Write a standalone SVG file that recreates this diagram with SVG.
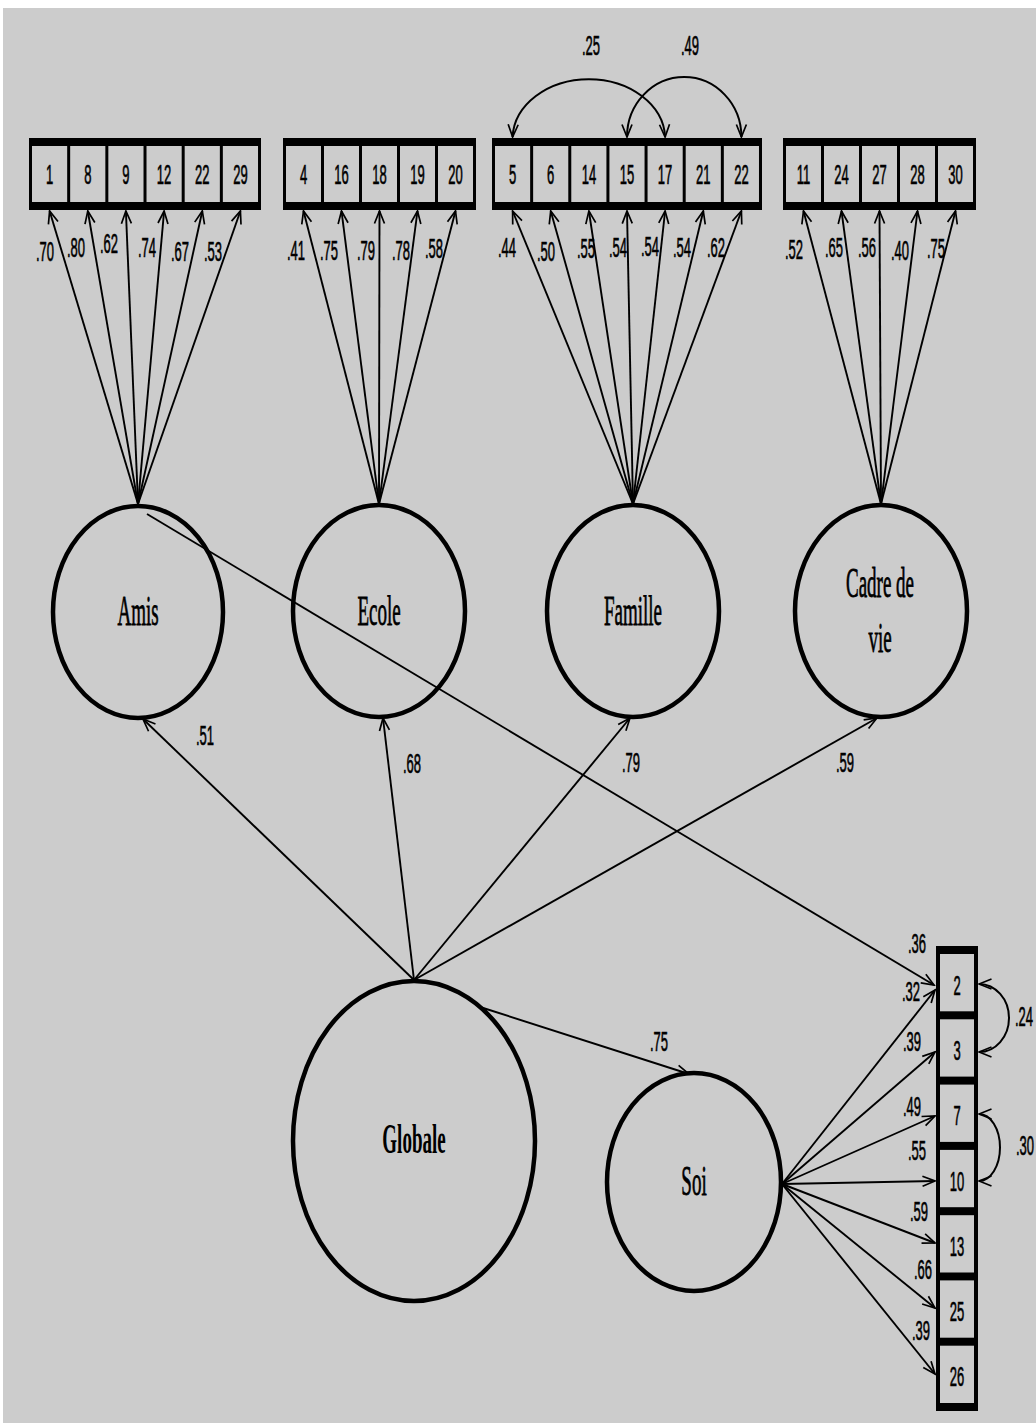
<svg xmlns="http://www.w3.org/2000/svg" width="1036" height="1425" viewBox="0 0 1036 1425">
  <defs>
    <style>
      .bg { fill: #cccccc; }
      .frame { fill: #000; }
      .cell { fill: #cccccc; }
      .lat { fill: none; stroke: #000; stroke-width: 4.5; }
      .a { fill: none; stroke: #000; stroke-width: 1.9; marker-end: url(#ah); }
      .cov { fill: none; stroke: #000; stroke-width: 2; marker-start: url(#ah); marker-end: url(#ah); }
      .lv { font-family: "Liberation Serif", "Times New Roman", serif; font-size: 19px; text-anchor: middle; fill: #000; stroke: #000; stroke-width: 0.35; }
      .lvb { font-family: "Liberation Serif", "Times New Roman", serif; font-size: 19px; font-weight: bold; text-anchor: middle; fill: #000; }
      .n { font-family: "Liberation Sans", Arial, sans-serif; font-size: 13px; text-anchor: middle; fill: #000; stroke: #000; stroke-width: 0.3; }
    </style>
    <marker id="ah" viewBox="-14 -7 16 14" refX="0" refY="0" markerWidth="16" markerHeight="14" markerUnits="userSpaceOnUse" orient="auto-start-reverse">
      <path d="M-12.5,-5 L0,0 L-12.5,5" fill="none" stroke="#000" stroke-width="1.7"/>
    </marker>
  </defs>

  <!-- page -->
  <rect x="0" y="0" width="1036" height="1425" fill="#ffffff"/>
  <rect class="bg" x="3" y="8" width="1033" height="1415"/>

  <!-- connectors -->
  <g id="connectors">
    <!-- Amis loadings -->
    <line class="a" x1="138" y1="504" x2="49.6" y2="211"/>
    <line class="a" x1="138" y1="504" x2="87.8" y2="211"/>
    <line class="a" x1="138" y1="504" x2="125.9" y2="211"/>
    <line class="a" x1="138" y1="504" x2="164.1" y2="211"/>
    <line class="a" x1="138" y1="504" x2="202.3" y2="211"/>
    <line class="a" x1="138" y1="504" x2="240.4" y2="211"/>
    <!-- Ecole loadings -->
    <line class="a" x1="379" y1="504" x2="303.5" y2="211"/>
    <line class="a" x1="379" y1="504" x2="341.5" y2="211"/>
    <line class="a" x1="379" y1="504" x2="379.5" y2="211"/>
    <line class="a" x1="379" y1="504" x2="417.5" y2="211"/>
    <line class="a" x1="379" y1="504" x2="455.5" y2="211"/>
    <!-- Famille loadings -->
    <line class="a" x1="633" y1="504" x2="512.6" y2="211"/>
    <line class="a" x1="633" y1="504" x2="550.7" y2="211"/>
    <line class="a" x1="633" y1="504" x2="588.9" y2="211"/>
    <line class="a" x1="633" y1="504" x2="627" y2="211"/>
    <line class="a" x1="633" y1="504" x2="665.1" y2="211"/>
    <line class="a" x1="633" y1="504" x2="703.3" y2="211"/>
    <line class="a" x1="633" y1="504" x2="741.4" y2="211"/>
    <!-- Cadre de vie loadings -->
    <line class="a" x1="881" y1="504" x2="803.5" y2="211"/>
    <line class="a" x1="881" y1="504" x2="841.5" y2="211"/>
    <line class="a" x1="881" y1="504" x2="879.5" y2="211"/>
    <line class="a" x1="881" y1="504" x2="917.5" y2="211"/>
    <line class="a" x1="881" y1="504" x2="955.5" y2="211"/>
    <!-- residual covariances, Famille items -->
    <path class="cov" d="M512.6,137 A76.3,60 0 0 1 665.1,137"/>
    <path class="cov" d="M627,137 A57.2,60 0 0 1 741.4,137"/>
    <!-- second-order paths -->
    <line class="a" x1="414" y1="980" x2="143" y2="719"/>
    <line class="a" x1="414" y1="980" x2="383" y2="718"/>
    <line class="a" x1="414" y1="980" x2="630" y2="718"/>
    <line class="a" x1="414" y1="980" x2="877" y2="718"/>
    <line class="a" x1="480" y1="1007" x2="689" y2="1074"/>
    <!-- cross loading Amis -> 2 -->
    <line class="a" x1="147" y1="514" x2="934" y2="985"/>
    <!-- Soi loadings -->
    <line class="a" x1="782" y1="1184" x2="935" y2="990"/>
    <line class="a" x1="782" y1="1184" x2="935" y2="1052"/>
    <line class="a" x1="782" y1="1184" x2="935" y2="1116"/>
    <line class="a" x1="782" y1="1184" x2="935" y2="1181"/>
    <line class="a" x1="782" y1="1184" x2="935" y2="1243"/>
    <line class="a" x1="782" y1="1184" x2="935" y2="1308"/>
    <line class="a" x1="782" y1="1184" x2="935" y2="1374"/>
    <!-- residual covariances, Soi items -->
    <path class="cov" d="M979,984 A30,34 0 0 1 979,1052"/>
    <path class="cov" d="M979,1114 A21,33.5 0 0 1 979,1181"/>
  </g>

  <!-- loading labels -->
  <g id="labels">
    <text class="n" transform="translate(45,261) scale(1,2.1)">.70</text>
    <text class="n" transform="translate(76,257) scale(1,2.1)">.80</text>
    <text class="n" transform="translate(109,253) scale(1,2.1)">.62</text>
    <text class="n" transform="translate(147,257) scale(1,2.1)">.74</text>
    <text class="n" transform="translate(180,261) scale(1,2.1)">.67</text>
    <text class="n" transform="translate(213,261) scale(1,2.1)">.53</text>

    <text class="n" transform="translate(296,260) scale(1,2.1)">.41</text>
    <text class="n" transform="translate(329,260) scale(1,2.1)">.75</text>
    <text class="n" transform="translate(366,260) scale(1,2.1)">.79</text>
    <text class="n" transform="translate(401,260) scale(1,2.1)">.78</text>
    <text class="n" transform="translate(434,258) scale(1,2.1)">.58</text>

    <text class="n" transform="translate(507,257) scale(1,2.1)">.44</text>
    <text class="n" transform="translate(546,261) scale(1,2.1)">.50</text>
    <text class="n" transform="translate(586,258) scale(1,2.1)">.55</text>
    <text class="n" transform="translate(618,257) scale(1,2.1)">.54</text>
    <text class="n" transform="translate(650,256) scale(1,2.1)">.54</text>
    <text class="n" transform="translate(682,257) scale(1,2.1)">.54</text>
    <text class="n" transform="translate(716,257) scale(1,2.1)">.62</text>

    <text class="n" transform="translate(794,259) scale(1,2.1)">.52</text>
    <text class="n" transform="translate(834,257) scale(1,2.1)">.65</text>
    <text class="n" transform="translate(867,257) scale(1,2.1)">.56</text>
    <text class="n" transform="translate(900,260) scale(1,2.1)">.40</text>
    <text class="n" transform="translate(936,258) scale(1,2.1)">.75</text>

    <text class="n" transform="translate(591,55) scale(1,2.1)">.25</text>
    <text class="n" transform="translate(690,55) scale(1,2.1)">.49</text>

    <text class="n" transform="translate(205,745) scale(1,2.1)">.51</text>
    <text class="n" transform="translate(412,773) scale(1,2.1)">.68</text>
    <text class="n" transform="translate(631,772) scale(1,2.1)">.79</text>
    <text class="n" transform="translate(845,772) scale(1,2.1)">.59</text>
    <text class="n" transform="translate(659,1051) scale(1,2.1)">.75</text>

    <text class="n" transform="translate(917,953) scale(1,2.1)">.36</text>
    <text class="n" transform="translate(911,1001) scale(1,2.1)">.32</text>
    <text class="n" transform="translate(912,1051) scale(1,2.1)">.39</text>
    <text class="n" transform="translate(912,1116) scale(1,2.1)">.49</text>
    <text class="n" transform="translate(917,1160) scale(1,2.1)">.55</text>
    <text class="n" transform="translate(919,1221) scale(1,2.1)">.59</text>
    <text class="n" transform="translate(923,1279) scale(1,2.1)">.66</text>
    <text class="n" transform="translate(921,1340) scale(1,2.1)">.39</text>

    <text class="n" transform="translate(1024,1026) scale(1,2.1)">.24</text>
    <text class="n" transform="translate(1025,1155) scale(1,2.1)">.30</text>
  </g>

  <!-- indicator blocks -->
  <g id="items-amis">
    <rect class="frame" x="29" y="138" width="232" height="72"/>
    <rect class="cell" x="32" y="146" width="35.17" height="56"/>
    <rect class="cell" x="70.17" y="146" width="35.17" height="56"/>
    <rect class="cell" x="108.34" y="146" width="35.17" height="56"/>
    <rect class="cell" x="146.51" y="146" width="35.17" height="56"/>
    <rect class="cell" x="184.68" y="146" width="35.17" height="56"/>
    <rect class="cell" x="222.85" y="146" width="35.17" height="56"/>
    <text class="n" transform="translate(49.6,183.5) scale(1,2.1)">1</text>
    <text class="n" transform="translate(87.8,183.5) scale(1,2.1)">8</text>
    <text class="n" transform="translate(125.9,183.5) scale(1,2.1)">9</text>
    <text class="n" transform="translate(164.1,183.5) scale(1,2.1)">12</text>
    <text class="n" transform="translate(202.3,183.5) scale(1,2.1)">22</text>
    <text class="n" transform="translate(240.4,183.5) scale(1,2.1)">29</text>
  </g>

  <g id="items-ecole">
    <rect class="frame" x="283" y="138" width="193" height="72"/>
    <rect class="cell" x="286" y="146" width="35" height="56"/>
    <rect class="cell" x="324" y="146" width="35" height="56"/>
    <rect class="cell" x="362" y="146" width="35" height="56"/>
    <rect class="cell" x="400" y="146" width="35" height="56"/>
    <rect class="cell" x="438" y="146" width="35" height="56"/>
    <text class="n" transform="translate(303.5,183.5) scale(1,2.1)">4</text>
    <text class="n" transform="translate(341.5,183.5) scale(1,2.1)">16</text>
    <text class="n" transform="translate(379.5,183.5) scale(1,2.1)">18</text>
    <text class="n" transform="translate(417.5,183.5) scale(1,2.1)">19</text>
    <text class="n" transform="translate(455.5,183.5) scale(1,2.1)">20</text>
  </g>

  <g id="items-famille">
    <rect class="frame" x="492" y="138" width="270" height="72"/>
    <rect class="cell" x="495" y="146" width="35.14" height="56"/>
    <rect class="cell" x="533.14" y="146" width="35.14" height="56"/>
    <rect class="cell" x="571.28" y="146" width="35.14" height="56"/>
    <rect class="cell" x="609.42" y="146" width="35.14" height="56"/>
    <rect class="cell" x="647.56" y="146" width="35.14" height="56"/>
    <rect class="cell" x="685.7" y="146" width="35.14" height="56"/>
    <rect class="cell" x="723.84" y="146" width="35.14" height="56"/>
    <text class="n" transform="translate(512.6,183.5) scale(1,2.1)">5</text>
    <text class="n" transform="translate(550.7,183.5) scale(1,2.1)">6</text>
    <text class="n" transform="translate(588.9,183.5) scale(1,2.1)">14</text>
    <text class="n" transform="translate(627,183.5) scale(1,2.1)">15</text>
    <text class="n" transform="translate(665.1,183.5) scale(1,2.1)">17</text>
    <text class="n" transform="translate(703.3,183.5) scale(1,2.1)">21</text>
    <text class="n" transform="translate(741.4,183.5) scale(1,2.1)">22</text>
  </g>

  <g id="items-cadre">
    <rect class="frame" x="783" y="138" width="193" height="72"/>
    <rect class="cell" x="786" y="146" width="35" height="56"/>
    <rect class="cell" x="824" y="146" width="35" height="56"/>
    <rect class="cell" x="862" y="146" width="35" height="56"/>
    <rect class="cell" x="900" y="146" width="35" height="56"/>
    <rect class="cell" x="938" y="146" width="35" height="56"/>
    <text class="n" transform="translate(803.5,183.5) scale(1,2.1)">11</text>
    <text class="n" transform="translate(841.5,183.5) scale(1,2.1)">24</text>
    <text class="n" transform="translate(879.5,183.5) scale(1,2.1)">27</text>
    <text class="n" transform="translate(917.5,183.5) scale(1,2.1)">28</text>
    <text class="n" transform="translate(955.5,183.5) scale(1,2.1)">30</text>
  </g>

  <g id="items-soi">
    <rect class="frame" x="936" y="946" width="42" height="465"/>
    <rect class="cell" x="940" y="954" width="34" height="57.3"/>
    <rect class="cell" x="940" y="1019.3" width="34" height="57.3"/>
    <rect class="cell" x="940" y="1084.6" width="34" height="57.3"/>
    <rect class="cell" x="940" y="1149.9" width="34" height="57.3"/>
    <rect class="cell" x="940" y="1215.2" width="34" height="57.3"/>
    <rect class="cell" x="940" y="1280.4" width="34" height="57.3"/>
    <rect class="cell" x="940" y="1345.7" width="34" height="57.3"/>
    <text class="n" transform="translate(957,994.6) scale(1,2.1)">2</text>
    <text class="n" transform="translate(957,1060) scale(1,2.1)">3</text>
    <text class="n" transform="translate(957,1125.2) scale(1,2.1)">7</text>
    <text class="n" transform="translate(957,1190.5) scale(1,2.1)">10</text>
    <text class="n" transform="translate(957,1255.8) scale(1,2.1)">13</text>
    <text class="n" transform="translate(957,1321.1) scale(1,2.1)">25</text>
    <text class="n" transform="translate(957,1386.4) scale(1,2.1)">26</text>
  </g>

  <!-- latent factors -->
  <g id="amis">
    <ellipse class="lat" cx="138" cy="612" rx="85" ry="106"/>
    <text class="lv" transform="translate(138,625) scale(1,2.25)">Amis</text>
  </g>
  <g id="ecole">
    <ellipse class="lat" cx="379" cy="611" rx="86" ry="106"/>
    <text class="lv" transform="translate(379,625) scale(1,2.25)">Ecole</text>
  </g>
  <g id="famille">
    <ellipse class="lat" cx="633" cy="611" rx="86" ry="106"/>
    <text class="lv" transform="translate(633,625) scale(1,2.25)">Famille</text>
  </g>
  <g id="cadre-de-vie">
    <ellipse class="lat" cx="881" cy="611" rx="86" ry="106"/>
    <text class="lv" transform="translate(880,597) scale(1,2.25)">Cadre de</text>
    <text class="lv" transform="translate(880,652) scale(1,2.25)">vie</text>
  </g>
  <g id="globale">
    <ellipse class="lat" cx="414" cy="1141" rx="121" ry="160"/>
    <text class="lvb" transform="translate(414,1153) scale(1,2.25)">Globale</text>
  </g>
  <g id="soi">
    <ellipse class="lat" cx="694" cy="1182" rx="87" ry="109"/>
    <text class="lv" transform="translate(694,1195) scale(1,2.25)">Soi</text>
  </g>
</svg>
